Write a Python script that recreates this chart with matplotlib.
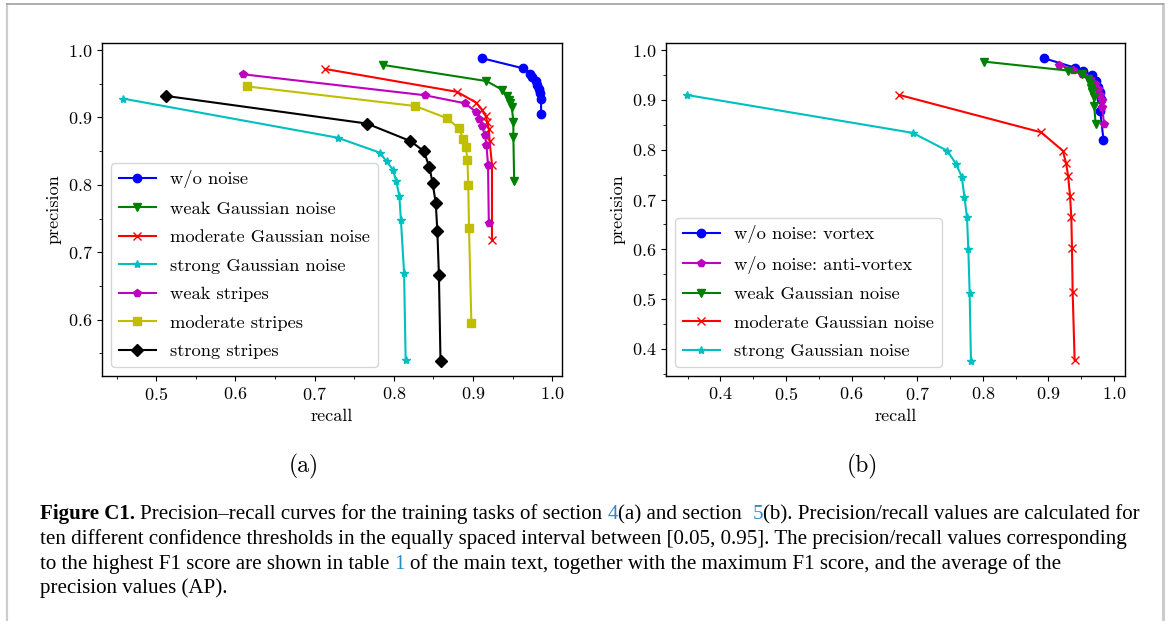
import matplotlib
matplotlib.use("Agg")
import matplotlib.pyplot as plt
from matplotlib.lines import Line2D
from matplotlib.ticker import MultipleLocator

plt.rcParams["font.family"] = "cmr10"
plt.rcParams["mathtext.fontset"] = "cm"
plt.rcParams["axes.formatter.use_mathtext"] = True
plt.rcParams["font.size"] = 13

W, H = 1170, 621

# ---- panel (a): section 4 training tasks ----
wo_noise_r = [0.911, 0.963, 0.972, 0.975, 0.979, 0.981, 0.983, 0.985, 0.986, 0.986]
wo_noise_p = [0.988, 0.973, 0.965, 0.960, 0.954, 0.948, 0.942, 0.936, 0.928, 0.905]
weak_gauss_r = [0.786, 0.917, 0.937, 0.943, 0.945, 0.947, 0.949, 0.951, 0.951, 0.952]
weak_gauss_p = [0.978, 0.954, 0.941, 0.932, 0.926, 0.921, 0.915, 0.894, 0.871, 0.806]
mod_gauss_r = [0.713, 0.880, 0.904, 0.912, 0.916, 0.918, 0.920, 0.921, 0.924, 0.924]
mod_gauss_p = [0.972, 0.938, 0.922, 0.911, 0.902, 0.893, 0.883, 0.865, 0.830, 0.718]
strong_gauss_r = [0.458, 0.729, 0.782, 0.791, 0.799, 0.803, 0.807, 0.809, 0.813, 0.815]
strong_gauss_p = [0.928, 0.870, 0.848, 0.835, 0.822, 0.806, 0.784, 0.748, 0.670, 0.540]
weak_stripes_r = [0.610, 0.839, 0.890, 0.904, 0.908, 0.911, 0.915, 0.917, 0.919, 0.920]
weak_stripes_p = [0.964, 0.933, 0.921, 0.908, 0.898, 0.888, 0.874, 0.859, 0.830, 0.744]
mod_stripes_r = [0.615, 0.827, 0.867, 0.882, 0.888, 0.891, 0.893, 0.894, 0.895, 0.898]
mod_stripes_p = [0.946, 0.917, 0.899, 0.884, 0.868, 0.856, 0.837, 0.800, 0.736, 0.595]
strong_stripes_r = [0.512, 0.766, 0.821, 0.838, 0.845, 0.849, 0.853, 0.855, 0.857, 0.859]
strong_stripes_p = [0.932, 0.891, 0.865, 0.850, 0.826, 0.803, 0.773, 0.732, 0.666, 0.539]

labels_a = ["w/o noise", "weak Gaussian noise", "moderate Gaussian noise",
            "strong Gaussian noise", "weak stripes", "moderate stripes",
            "strong stripes"]

# ---- panel (b): section 5 training tasks ----
vortex_r = [0.893, 0.940, 0.953, 0.966, 0.972, 0.976, 0.979, 0.980, 0.979, 0.984]
vortex_p = [0.984, 0.965, 0.958, 0.950, 0.938, 0.927, 0.915, 0.902, 0.878, 0.820]
anti_r = [0.916, 0.938, 0.951, 0.964, 0.971, 0.975, 0.978, 0.981, 0.982, 0.985]
anti_p = [0.970, 0.961, 0.952, 0.942, 0.932, 0.922, 0.910, 0.900, 0.885, 0.851]
weak_r = [0.802, 0.930, 0.951, 0.960, 0.964, 0.965, 0.967, 0.969, 0.970, 0.972]
weak_p = [0.977, 0.959, 0.953, 0.943, 0.935, 0.925, 0.915, 0.905, 0.888, 0.851]
mod_r = [0.673, 0.889, 0.922, 0.927, 0.930, 0.933, 0.935, 0.936, 0.937, 0.940]
mod_p = [0.910, 0.835, 0.798, 0.773, 0.748, 0.708, 0.664, 0.602, 0.515, 0.378]
strong_r = [0.349, 0.693, 0.746, 0.759, 0.768, 0.772, 0.776, 0.778, 0.780, 0.782]
strong_p = [0.910, 0.834, 0.798, 0.772, 0.746, 0.706, 0.664, 0.600, 0.513, 0.376]

labels_b = ["w/o noise: vortex", "w/o noise: anti-vortex", "weak Gaussian noise",
            "moderate Gaussian noise", "strong Gaussian noise"]

CAPTION_FONT = "Liberation Serif"
LINK_BLUE = "#2a8ac8"
caption_lines = [
    [("Figure C1.", "bold", "black", 1),
     ("Precision\u2013recall curves for the training tasks of section", "normal", "black", 1),
     ("4", "normal", LINK_BLUE, 0),
     ("(a) and section", "normal", "black", 2),
     ("5", "normal", LINK_BLUE, 0),
     ("(b). Precision/recall values are calculated for", "normal", "black", 0)],
    [("ten different confidence thresholds in the equally spaced interval between "
      "[0.05, 0.95]. The precision/recall values corresponding", "normal", "black", 0)],
    [("to the highest F1 score are shown in table", "normal", "black", 1),
     ("1", "normal", LINK_BLUE, 1),
     ("of the main text, together with the maximum F1 score, and the average of the",
      "normal", "black", 0)],
    [("precision values (AP).", "normal", "black", 0)],
]


def style_axes(ax):
    ax.xaxis.set_major_locator(MultipleLocator(0.1))
    ax.xaxis.set_minor_locator(MultipleLocator(0.05))
    ax.yaxis.set_major_locator(MultipleLocator(0.1))
    ax.yaxis.set_minor_locator(MultipleLocator(0.05))
    ax.set_xlabel("recall")
    ax.set_ylabel("precision")
    for sp in ax.spines.values():
        sp.set_linewidth(1.0)


fig = plt.figure(figsize=(W / 100, H / 100), dpi=100)
ax1 = fig.add_axes([102 / W, 1 - 376 / H, 460 / W, 333 / H])
ax2 = fig.add_axes([666 / W, 1 - 376 / H, 459 / W, 333 / H])

series_a = [
    (wo_noise_r, wo_noise_p, "bo-"),
    (weak_gauss_r, weak_gauss_p, "gv-"),
    (mod_gauss_r, mod_gauss_p, "rx-"),
    (strong_gauss_r, strong_gauss_p, "c*-"),
    (weak_stripes_r, weak_stripes_p, "mp-"),
    (mod_stripes_r, mod_stripes_p, "ys-"),
    (strong_stripes_r, strong_stripes_p, "kD-"),
]
for (r, p, fmt), lab in zip(series_a, labels_a):
    ax1.plot(r, p, fmt, label=lab)
style_axes(ax1)
ax1.legend(loc="lower left", fontsize=13.3, labelspacing=0.68)

series_b = [
    (vortex_r, vortex_p, "bo-"),
    (anti_r, anti_p, "mp-"),
    (weak_r, weak_p, "gv-"),
    (mod_r, mod_p, "rx-"),
    (strong_r, strong_p, "c*-"),
]
for (r, p, fmt), lab in zip(series_b, labels_b):
    ax2.plot(r, p, fmt, label=lab)
style_axes(ax2)
ax2.legend(loc="lower left", fontsize=13.3, labelspacing=0.68)

# subfigure labels
fig.text(304 / W, 1 - 466 / H, "(a)", fontsize=17, ha="center", va="center")
fig.text(862 / W, 1 - 466 / H, "(b)", fontsize=17, ha="center", va="center")

# page frame
fig.add_artist(Line2D([7 / W, 7 / W], [0, 1 - 4 / H], color="#cccccc", lw=1.6))
fig.add_artist(Line2D([1163 / W, 1163 / W], [0, 1 - 4 / H], color="#cccccc", lw=2.2))
fig.add_artist(Line2D([7 / W, 1163 / W], [1 - 4 / H, 1 - 4 / H], color="#a0a0a0", lw=1.2))

# caption, drawn run by run so the bold head and blue refs sit inline
renderer = fig.canvas.get_renderer()


def text_width(s, size, weight="normal"):
    t = fig.text(0, 0, s, fontsize=size, weight=weight, family=CAPTION_FONT)
    w = t.get_window_extent(renderer).width
    t.remove()
    return w


def draw_line(runs, x0, y_base, size, draw=True):
    sp = text_width("a a", size) - text_width("aa", size)
    x = x0
    for s, weight, color, nsp in runs:
        t = fig.text(x / W, 1 - y_base / H, s, fontsize=size, weight=weight,
                     color=color, family=CAPTION_FONT, va="baseline")
        x = t.get_window_extent(renderer).x1 + nsp * sp
        if not draw:
            t.remove()
    return x - x0


trial = 13.0
w1 = draw_line(caption_lines[0], 40, 519, trial, draw=False)
cap_size = trial * 1095 / w1
for line, yb in zip(caption_lines, [519, 544, 569, 593]):
    draw_line(line, 40, yb, cap_size)

fig.savefig("out.png", dpi=100)
